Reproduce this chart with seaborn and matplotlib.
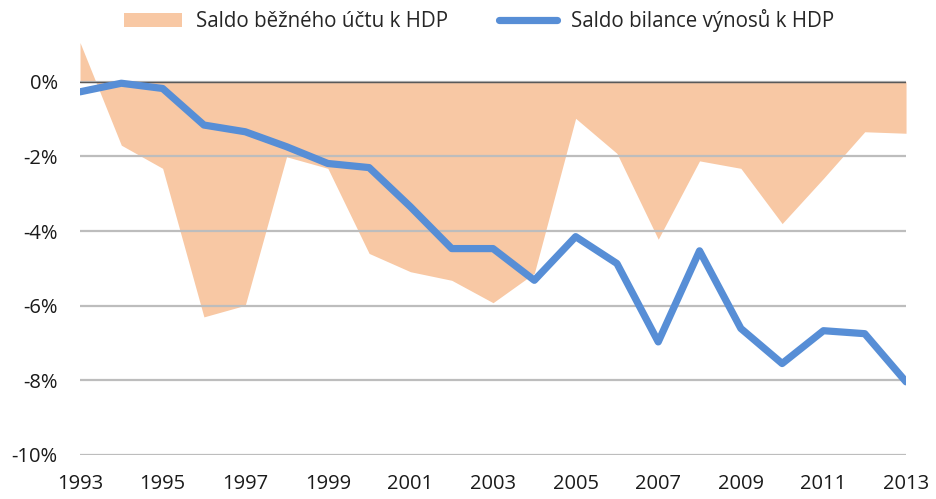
import matplotlib
matplotlib.use("Agg")
import matplotlib.pyplot as plt
import seaborn as sns
import numpy as np
import pandas as pd

years = list(range(1993, 2014))
current_account = [1.05, -1.70, -2.32, -6.30, -5.99, -2.01, -2.32, -4.60, -5.09, -5.32,
                   -5.92, -5.13, -0.98, -1.92, -4.22, -2.12, -2.32, -3.80, -2.59, -1.34, -1.38]
income_balance = [-0.27, -0.04, -0.18, -1.16, -1.34, -1.74, -2.19, -2.30, -3.35, -4.47,
                  -4.47, -5.32, -4.15, -4.87, -6.97, -4.53, -6.61, -7.55, -6.67, -6.75, -8.04]
xticks = list(range(1993, 2014, 2))
yticks = [0, -2, -4, -6, -8, -10]
label_area = "Saldo běžného účtu k HDP"
label_line = "Saldo bilance výnosů k HDP"

df = pd.DataFrame({"year": years, "ca": current_account, "inc": income_balance})

sns.set_theme(style="white")
plt.rcParams["font.family"] = ["Open Sans", "DejaVu Sans"]

fig = plt.figure(figsize=(9.36, 4.99), dpi=100)
ax = fig.add_axes([0.0855, 0.0882, 0.968 - 0.0855, 0.9222 - 0.0882])

ax.fill_between(df["year"], df["ca"], 0, color="#F8C8A4", linewidth=0, zorder=1,
                label=label_area)
sns.lineplot(data=df, x="year", y="inc", ax=ax, color="#578ED6", linewidth=5.2,
             zorder=4, label=label_line)

ax.set_xlim(1993, 2013)
ax.set_ylim(-10, 1.15)
ax.set_xticks(xticks)
ax.set_yticks(yticks)
ax.set_yticklabels([f"{v}%" for v in yticks])
ax.set_xlabel("")
ax.set_ylabel("")
for s in ax.spines.values():
    s.set_visible(False)
ax.set_axisbelow(False)
ax.yaxis.grid(True, color="#BDBDBD", linewidth=1.6, zorder=2)
ax.axhline(0, color="#595959", linewidth=1.0, zorder=3)
ax.tick_params(axis="both", length=0, labelsize=14.5, colors="#1a1a1a")
ax.tick_params(axis="y", pad=16)
ax.tick_params(axis="x", pad=14)

handles, labels = ax.get_legend_handles_labels()
ax.get_legend().remove()
fig.legend(handles, labels, loc="center", bbox_to_anchor=(0.512, 0.958), ncol=2,
           frameon=False, fontsize=14.8, handlelength=2.8, columnspacing=2.5,
           handletextpad=0.7, borderaxespad=0, borderpad=0)

fig.savefig("out.png", dpi=100)
